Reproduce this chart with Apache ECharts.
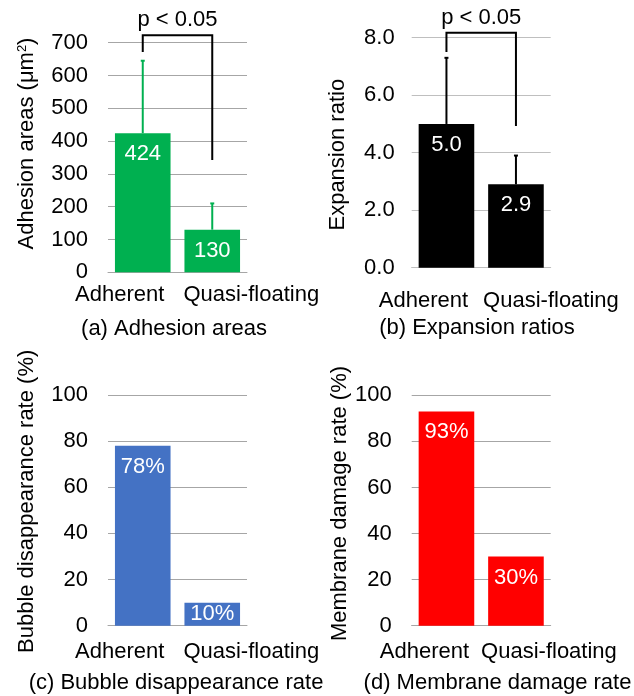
<!DOCTYPE html>
<html>
<head>
<meta charset="utf-8">
<script src="https://cdn.jsdelivr.net/npm/echarts@6/dist/echarts.min.js"></script>
<style>
  html, body { margin: 0; padding: 0; background: #fff; }
  #chart { width: 634px; height: 696px; }
</style>
</head>
<body>
<div id="chart"></div>
<script>
// data
const categories = ['Adherent', 'Quasi-floating']

const areaValues = [424, 130]
const areaErrors = [221, 80]
const areaBracket = [672, 723, 342] // left leg end, top, right leg end

const ratioValues = [5.0, 2.9]
const ratioErrors = [2.3, 1.0]
const ratioBracket = [7.5, 8.17, 4.93]

const bubbleValues = [78, 10]
const damageValues = [93, 30]

const pText = 'p < 0.05'
const panelTitles = ['(a) Adhesion areas', '(b) Expansion ratios', '(c) Bubble disappearance rate', '(d) Membrane damage rate']
const yNames = ['Adhesion areas (μm{sup|2})', 'Expansion ratio', 'Bubble disappearance rate (%)', 'Membrane damage rate (%)']
const yMax = [700, 8, 100, 100]
const yInterval = [100, 2, 20, 20]

const font = 'Liberation Sans, Arial, sans-serif'
const textColor = '#000'
const colors = ['#00B050', '#000000', '#4472C4', '#FF0000']
const gridColors = ['#a6a6a6', '#bfbfbf', '#a6a6a6', '#a6a6a6']

// layout, px
const grids = [
  { left: 108, top: 42.7, width: 139, height: 229.6 },
  { left: 411.7, top: 37.7, width: 139, height: 230 },
  { left: 108, top: 395, width: 139, height: 230.7 },
  { left: 411.7, top: 395.3, width: 139, height: 230.4 }
]
const xLabelMargin = [12, 22, 15, 15]
const xLabelShift = [[-23, 39], [-23, 35], [-23, 39], [-22, 33]]
const yLabelMargin = [20, 17, 20, 20]
const yNameGap = [70, 63, 70, 59]
const yNamePad = [[0, 0, 0, 28], [0, 4, 0, 0], [0, 0, 0, 18], [0, 0, 0, 14]]
const titlePos = [[174, 329], [477, 328], [176, 683], [497.5, 683]]

function labelFmt(i) {
  return function(p) {
    if (i === 1) return p.value.toFixed(1)
    if (i >= 2) return p.value + '%'
    return String(p.value)
  }
}

function barData(values, max) {
  return values.map(v => v / max < 0.15 ? { value: v, label: { position: 'inside' } } : v)
}

function errorBar(color) {
  return function(params, api) {
    const lo = api.coord([api.value(0), api.value(1)])
    const hi = api.coord([api.value(0), api.value(2)])
    return {
      type: 'group',
      children: [
        { type: 'line', shape: { x1: lo[0], y1: lo[1], x2: hi[0], y2: hi[1] }, style: { stroke: color, lineWidth: 2 } },
        { type: 'line', shape: { x1: hi[0] - 2, y1: hi[1], x2: hi[0] + 2, y2: hi[1] }, style: { stroke: color, lineWidth: 2 } }
      ]
    }
  }
}

function bracket(params, api) {
  const l = api.coord([api.value(0), api.value(2)])
  const t1 = api.coord([api.value(0), api.value(3)])
  const t2 = api.coord([api.value(1), api.value(3)])
  const r = api.coord([api.value(1), api.value(4)])
  return {
    type: 'group',
    children: [
      { type: 'polyline', shape: { points: [l, t1, t2, r] }, style: { stroke: '#000', lineWidth: 2, fill: null } },
      {
        type: 'text',
        x: (t1[0] + t2[0]) / 2,
        y: t1[1] - 15,
        style: { text: pText, align: 'center', verticalAlign: 'middle', font: '22px ' + font, fill: textColor }
      }
    ]
  }
}

const xAxis = grids.map((g, i) => ({
  type: 'category',
  gridIndex: i,
  data: categories,
  axisTick: { show: false },
  axisLine: { lineStyle: { color: gridColors[i], width: 1 } },
  axisLabel: {
    interval: 0,
    margin: xLabelMargin[i],
    fontSize: 22,
    fontFamily: font,
    color: textColor,
    formatter: (v, idx) => idx === 0 ? '{l|' + v + '}' : '{r|' + v + '}',
    rich: {
      l: { fontSize: 22, fontFamily: font, color: textColor, padding: [0, -2 * xLabelShift[i][0], 0, 0] },
      r: { fontSize: 22, fontFamily: font, color: textColor, padding: [0, 0, 0, 2 * xLabelShift[i][1]] }
    }
  }
}))

const yAxis = grids.map((g, i) => ({
  type: 'value',
  gridIndex: i,
  min: 0,
  max: yMax[i],
  interval: yInterval[i],
  axisLine: { show: false },
  axisTick: { show: false },
  splitLine: { lineStyle: { color: gridColors[i], width: 1 } },
  axisLabel: {
    margin: yLabelMargin[i],
    fontSize: 22,
    fontFamily: font,
    color: textColor,
    formatter: v => i === 1 ? v.toFixed(1) : String(v)
  },
  name: yNames[i],
  nameLocation: 'middle',
  nameGap: yNameGap[i],
  nameTextStyle: {
    fontSize: 22,
    fontFamily: font,
    color: textColor,
    padding: yNamePad[i],
    rich: { sup: { fontSize: 13, fontFamily: font, color: textColor, verticalAlign: 'top', lineHeight: 22 } }
  }
}))

const barValues = [areaValues, ratioValues, bubbleValues, damageValues]

const series = barValues.map((vals, i) => ({
  type: 'bar',
  xAxisIndex: i,
  yAxisIndex: i,
  barCategoryGap: '20%',
  data: barData(vals, yMax[i]),
  itemStyle: { color: colors[i] },
  label: {
    show: true,
    position: 'insideTop',
    distance: 10,
    color: '#fff',
    fontSize: 22,
    fontFamily: font,
    formatter: labelFmt(i)
  },
  animation: false
}))

series.push({
  type: 'custom',
  xAxisIndex: 0,
  yAxisIndex: 0,
  data: areaValues.map((v, i) => [i, v, v + areaErrors[i]]),
  encode: { x: 0, y: [1, 2] },
  renderItem: errorBar(colors[0]),
  z: 3,
  animation: false
})
series.push({
  type: 'custom',
  xAxisIndex: 1,
  yAxisIndex: 1,
  data: ratioValues.map((v, i) => [i, v, v + ratioErrors[i]]),
  encode: { x: 0, y: [1, 2] },
  renderItem: errorBar(colors[1]),
  z: 3,
  animation: false
})
series.push({
  type: 'custom',
  xAxisIndex: 0,
  yAxisIndex: 0,
  clip: false,
  data: [[0, 1].concat(areaBracket)],
  encode: { x: [0, 1], y: [2, 3, 4] },
  renderItem: bracket,
  z: 4,
  animation: false
})
series.push({
  type: 'custom',
  xAxisIndex: 1,
  yAxisIndex: 1,
  clip: false,
  data: [[0, 1].concat(ratioBracket)],
  encode: { x: [0, 1], y: [2, 3, 4] },
  renderItem: bracket,
  z: 4,
  animation: false
})

const chart = echarts.init(document.getElementById('chart'))
chart.setOption({
  backgroundColor: '#fff',
  animation: false,
  grid: grids,
  xAxis: xAxis,
  yAxis: yAxis,
  series: series,
  graphic: panelTitles.map((t, i) => ({
    type: 'text',
    x: titlePos[i][0],
    y: titlePos[i][1],
    style: { text: t, align: 'center', verticalAlign: 'middle', font: '22px ' + font, fill: textColor }
  }))
})
</script>
</body>
</html>
